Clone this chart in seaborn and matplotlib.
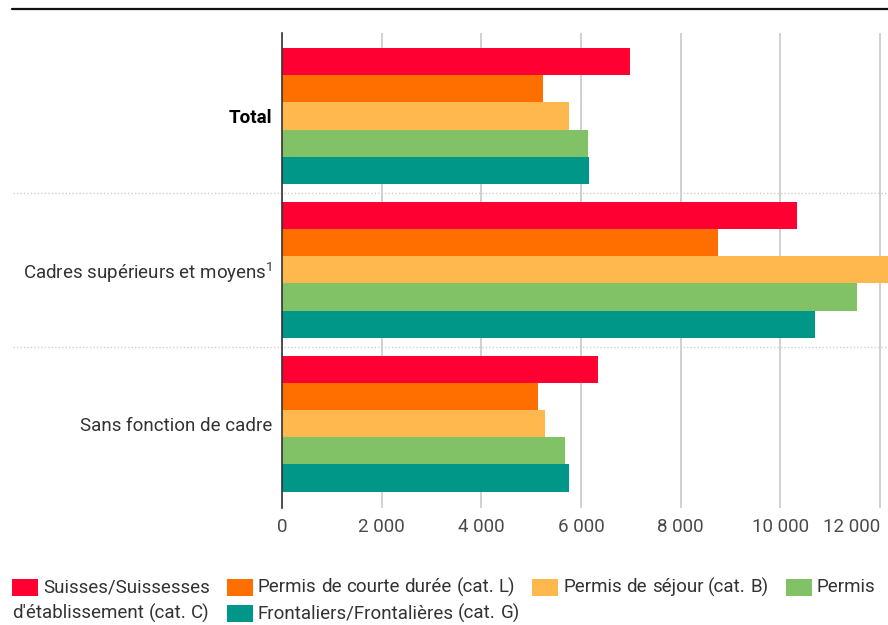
import numpy as np
import pandas as pd
import matplotlib.pyplot as plt
import seaborn as sns
from matplotlib.lines import Line2D
from matplotlib.patches import Rectangle

# Données
categories = ['Total', 'Cadres supérieurs et moyens$^{1}$', 'Sans fonction de cadre']
series = ['Suisses/Suissesses', 'Permis de courte durée (cat. L)', 'Permis de séjour (cat. B)',
          "Permis d'établissement (cat. C)", 'Frontaliers/Frontalières (cat. G)']
suisses = [6990, 10340, 6350]
permis_l = [5245, 8755, 5145]
permis_b = [5765, 12500, 5285]
permis_c = [6150, 11545, 5685]
frontaliers = [6165, 10700, 5765]
colors = ['#FF0033', '#FF6F00', '#FFB84D', '#80C265', '#009688']
xticks = [0, 2000, 4000, 6000, 8000, 10000, 12000]
xticklabels = ['0', '2 000', '4 000', '6 000', '8 000', '10 000', '12 000']

values = [suisses, permis_l, permis_b, permis_c, frontaliers]
df = pd.DataFrame([(c, s, v[i]) for s, v in zip(series, values) for i, c in enumerate(categories)],
                  columns=['categorie', 'serie', 'valeur'])

sns.set_style('white')
plt.rcParams['font.family'] = ['Roboto', 'DejaVu Sans']
plt.rcParams['mathtext.fontset'] = 'custom'
plt.rcParams['mathtext.rm'] = 'Roboto'
plt.rcParams['mathtext.it'] = 'Roboto'

FS = 13.5
W, H = 888, 625
fig = plt.figure(figsize=(W / 100, H / 100), dpi=100)
ax = fig.add_axes([282 / W, 1 - 508 / H, (W - 282) / W, (508 - 33) / H])

sns.barplot(data=df, y='categorie', x='valeur', hue='serie', hue_order=series,
            order=categories, palette=colors, orient='h', width=0.884,
            saturation=1, legend=False, ax=ax, zorder=3, linewidth=0)

ax.set_xlim(0, 12160)
ax.set_ylim(2.548, -0.5395)
ax.set_xlabel('')
ax.set_ylabel('')
ax.set_xticks(xticks)
ax.set_xticklabels(xticklabels, fontsize=FS, color='#4a4a4a')
ax.get_xticklabels()[-1].set_horizontalalignment('right')
ax.get_xticklabels()[-1].set_x(12000 + 200)
ax.tick_params(axis='x', length=0, pad=7)
ax.tick_params(axis='y', length=0, pad=7)
for lbl in ax.get_yticklabels():
    lbl.set_fontsize(FS)
    lbl.set_color('#333')
ax.get_yticklabels()[0].set_fontweight('bold')
ax.get_yticklabels()[0].set_color('black')

ax.grid(axis='x', color='#d0d0d0', linewidth=1.4, zorder=0)
ax.grid(axis='y', visible=False)
for side in ['top', 'right', 'bottom']:
    ax.spines[side].set_visible(False)
ax.spines['left'].set_color('#333')
ax.spines['left'].set_linewidth(1.2)
ax.spines['left'].set_zorder(5)

# séparateurs pointillés entre les groupes
for y in [0.5, 1.5]:
    ax.axhline(y, xmin=(13 - 282) / (W - 282), xmax=1, color='#cfcfcf',
               linestyle=(0, (1, 1.5)), linewidth=1, clip_on=False, zorder=1)

# ligne noire en haut
fig.add_artist(Line2D([12 / W, 1], [1 - 8.5 / H, 1 - 8.5 / H], color='#111', linewidth=1.6))

# légende en flux (comme du HTML)
renderer = fig.canvas.get_renderer()


def text_width(s):
    t = fig.text(0, 0, s, fontsize=FS)
    w = t.get_window_extent(renderer).width
    t.remove()
    return w


space_w = text_width('x x') - text_width('xx')
x, row_y = 12, 587
line_h, max_x = 26, 886
for name, col in zip(series, colors):
    words = name.split(' ')
    first_w = text_width(words[0])
    if x + 31 + first_w > max_x:
        x, row_y = 12, row_y + line_h
    fig.add_artist(Rectangle((x / W, 1 - (row_y + 8.5) / H), 26 / W, 17 / H,
                             transform=fig.transFigure, color=col, lw=0))
    x += 31
    for wd in words:
        ww = text_width(wd)
        if x + ww > max_x:
            x, row_y = 12, row_y + line_h
        fig.text(x / W, 1 - row_y / H, wd, fontsize=FS, color='#333', va='center', ha='left')
        x += ww + space_w
    x += 17 - space_w

fig.savefig('out.png', dpi=100)
